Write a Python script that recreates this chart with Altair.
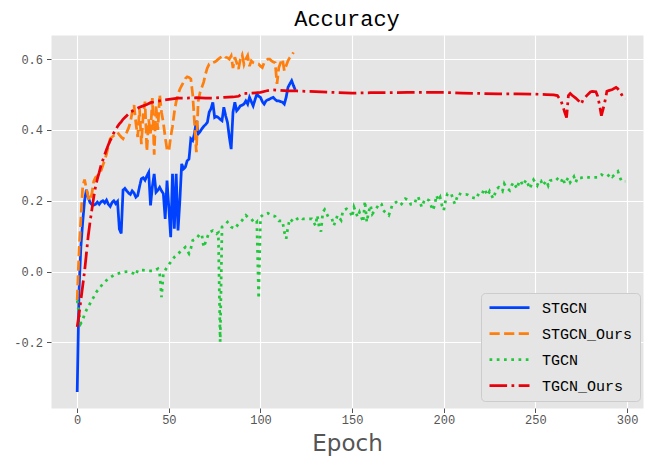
import altair as alt
import pandas as pd

series_names = ["STGCN", "STGCN_Ours", "TGCN", "TGCN_Ours"]
series_colors = ["#0041FF", "#FF7F0E", "#22C83C", "#E8000B"]
series_dashes = [[1, 0], [10.2, 4.4], [2.75, 4.5], [17.6, 4.4, 2.75, 4.4]]

stgcn = [
    -0.34, -0.05, 0.07, 0.14, 0.2, 0.231, 0.21, 0.195, 0.189, 0.188,
    0.19, 0.196, 0.19, 0.197, 0.2, 0.194, 0.202, 0.19, 0.184, 0.195,
    0.2, 0.192, 0.198, 0.12, 0.108, 0.23, 0.235, 0.228, 0.222, 0.218,
    0.228, 0.222, 0.21, 0.215, 0.24, 0.262, 0.265, 0.258, 0.27, 0.28,
    0.187, 0.24, 0.276, 0.224, 0.23, 0.238, 0.228, 0.22, 0.149, 0.257,
    0.18, 0.097, 0.276, 0.121, 0.276, 0.116, 0.2, 0.304, 0.29, 0.295,
    0.313, 0.318, 0.375, 0.37, 0.39, 0.426, 0.389, 0.395, 0.403, 0.41,
    0.415, 0.421, 0.45, 0.46, 0.478, 0.435, 0.438, 0.435, 0.43, 0.426,
    0.464, 0.44, 0.421, 0.38, 0.346, 0.45, 0.478, 0.454, 0.46, 0.468,
    0.47, 0.473, 0.482, 0.473, 0.492, 0.48, 0.468, 0.485, 0.501, 0.495,
    0.492, 0.48, 0.473, 0.482, 0.485, 0.487, 0.49, 0.492, 0.486, 0.482,
    0.482, 0.48, 0.478, 0.473, 0.492, 0.52, 0.53, 0.539, 0.525, 0.513,
]

stgcn_ours = [
    -0.08, 0.06, 0.15, 0.24, 0.26, 0.235, 0.21, 0.2, 0.22, 0.255,
    0.266, 0.27, 0.276, 0.285, 0.3, 0.315, 0.332, 0.355, 0.375, 0.38,
    0.384, 0.39, 0.393, 0.386, 0.38, 0.375, 0.385, 0.393, 0.405, 0.421,
    0.45, 0.47, 0.42, 0.38, 0.46, 0.36, 0.44, 0.48, 0.34, 0.43,
    0.39, 0.49, 0.33, 0.47, 0.4, 0.5, 0.45, 0.42, 0.38, 0.345,
    0.34, 0.38, 0.41, 0.45, 0.48, 0.5, 0.515, 0.525, 0.535, 0.545,
    0.55, 0.548, 0.544, 0.5, 0.42, 0.337, 0.48, 0.505, 0.52, 0.535,
    0.558, 0.575, 0.586, 0.586, 0.59, 0.592, 0.595, 0.6, 0.604, 0.607,
    0.61, 0.605, 0.604, 0.6, 0.609, 0.575, 0.605, 0.59, 0.572, 0.6,
    0.612, 0.585, 0.6, 0.61, 0.58, 0.595, 0.59, 0.588, 0.586, 0.586,
    0.58, 0.576, 0.59, 0.595, 0.6, 0.6, 0.595, 0.592, 0.59, 0.53,
    0.576, 0.59, 0.6, 0.567, 0.581, 0.595, 0.604, 0.61, 0.619,
]

tgcn_epochs = [
    0, 1, 2, 3, 4, 5, 6, 7, 8, 9, 10, 12, 14, 17, 20, 22, 25, 28, 31, 32,
    33, 36, 39, 42, 44, 45, 46, 47, 49, 51, 53, 56, 59, 61, 62, 63, 65, 67, 68, 69,
    70, 72, 74, 76, 77, 78, 79, 81, 82, 84, 86, 88, 90, 92, 93, 95, 97, 98, 99, 100,
    102, 104, 106, 108, 110, 112, 113, 114, 115, 116, 118, 120, 122, 123, 126, 128, 130, 131, 132, 133,
    134, 135, 137, 139, 140, 141, 142, 144, 145, 147, 149, 150, 151, 153, 154, 156, 157, 158, 159, 160,
    161, 163, 165, 166, 167, 168, 170, 171, 172, 174, 176, 177, 179, 181, 182, 184, 185, 186, 187, 188,
    189, 190, 192, 193, 194, 195, 196, 197, 198, 199, 200, 201, 202, 204, 205, 206, 208, 210, 212, 213,
    215, 218, 219, 221, 222, 224, 225, 227, 228, 229, 230, 232, 233, 234, 236, 237, 238, 240, 241, 242,
    243, 245, 247, 248, 249, 251, 252, 253, 254, 256, 257, 258, 260, 261, 262, 264, 265, 266, 268, 269,
    271, 272, 273, 275, 277, 280, 282, 284, 286, 287, 289, 291, 292, 295, 296, 297, 299,
]
tgcn = [
    -0.081, -0.12, -0.146, -0.137, -0.12, -0.109, -0.1, -0.09, -0.08, -0.072, -0.06, -0.048, -0.034, -0.02, -0.01, -0.006, -0.001, 0.0, -0.006, -0.01,
    0.004, 0.004, 0.002, 0.002, 0.008, -0.006, -0.072, -0.006, 0.013, 0.027, 0.041, 0.055, 0.069, 0.051, 0.065, 0.088, 0.093, 0.107, 0.104, 0.069,
    0.083, 0.111, 0.116, 0.107, 0.11, -0.198, 0.126, 0.135, 0.14, 0.126, 0.121, 0.135, 0.145, 0.159, 0.154, 0.149, 0.135, 0.14, -0.076, 0.154,
    0.163, 0.165, 0.159, 0.156, 0.143, 0.143, 0.112, 0.093, 0.126, 0.149, 0.14, 0.149, 0.154, 0.149, 0.149, 0.149, 0.13, 0.159, 0.126, 0.113,
    0.168, 0.175, 0.154, 0.149, 0.13, 0.143, 0.159, 0.145, 0.173, 0.177, 0.168, 0.154, 0.182, 0.154, 0.168, 0.14, 0.199, 0.14, 0.168, 0.187,
    0.163, 0.177, 0.193, 0.191, 0.173, 0.168, 0.159, 0.173, 0.19, 0.196, 0.187, 0.191, 0.206, 0.201, 0.19, 0.191, 0.206, 0.212, 0.196, 0.182,
    0.196, 0.206, 0.201, 0.187, 0.173, 0.187, 0.215, 0.201, 0.21, 0.187, 0.173, 0.201, 0.22, 0.221, 0.206, 0.191, 0.221, 0.217, 0.218, 0.217,
    0.21, 0.206, 0.221, 0.22, 0.234, 0.215, 0.227, 0.206, 0.221, 0.234, 0.238, 0.227, 0.248, 0.238, 0.229, 0.243, 0.252, 0.234, 0.252, 0.257,
    0.243, 0.259, 0.234, 0.248, 0.259, 0.243, 0.257, 0.257, 0.243, 0.257, 0.243, 0.257, 0.259, 0.257, 0.262, 0.252, 0.265, 0.248, 0.266, 0.252,
    0.268, 0.252, 0.265, 0.265, 0.268, 0.265, 0.266, 0.266, 0.274, 0.271, 0.268, 0.276, 0.268, 0.283, 0.268, 0.255, 0.255,
]

tgcn_ours_epochs = [
    0, 1, 2, 3, 4, 5, 6, 7, 8, 9, 10, 11, 12, 13, 14, 15, 16, 17, 18, 19,
    20, 21, 22, 23, 24, 25, 26, 27, 28, 29, 30, 32, 34, 36, 38, 40, 42, 45, 48, 51,
    55, 60, 65, 70, 75, 80, 85, 88, 90, 92, 95, 98, 100, 103, 106, 110, 115, 120, 130, 140,
    150, 160, 170, 180, 190, 200, 210, 220, 230, 240, 250, 256, 260, 262, 264, 266, 267, 268, 269, 270,
    272, 274, 275, 276, 278, 280, 281, 283, 284, 285, 286, 287, 288, 289, 290, 292, 294, 295, 296, 297,
    298, 299,
]
tgcn_ours = [
    -0.156, -0.12, -0.08, -0.04, 0.0, 0.05, 0.1, 0.14, 0.175, 0.21, 0.24, 0.262, 0.28, 0.3, 0.315, 0.33, 0.345, 0.358, 0.37, 0.38,
    0.392, 0.4, 0.41, 0.417, 0.423, 0.43, 0.435, 0.44, 0.445, 0.45, 0.453, 0.459, 0.464, 0.468, 0.472, 0.477, 0.479, 0.482, 0.485, 0.487,
    0.49, 0.49, 0.491, 0.49, 0.49, 0.492, 0.493, 0.495, 0.502, 0.503, 0.504, 0.505, 0.506, 0.51, 0.513, 0.512, 0.51, 0.51, 0.508, 0.506,
    0.504, 0.505, 0.505, 0.506, 0.506, 0.506, 0.504, 0.503, 0.502, 0.502, 0.501, 0.5, 0.499, 0.497, 0.482, 0.45, 0.435, 0.497, 0.503, 0.498,
    0.49, 0.48, 0.473, 0.485, 0.497, 0.507, 0.509, 0.508, 0.495, 0.47, 0.44, 0.46, 0.482, 0.509, 0.511, 0.514, 0.52, 0.516, 0.509, 0.5,
    0.49, 0.487,
]

x_ticks = [0, 50, 100, 150, 200, 250, 300]
y_ticks = [-0.2, 0.0, 0.2, 0.4, 0.6]

rows = []
for e, v in zip(range(len(stgcn)), stgcn):
    rows.append({"Epoch": e, "value": v, "series": series_names[0]})
for e, v in zip(range(len(stgcn_ours)), stgcn_ours):
    rows.append({"Epoch": e, "value": v, "series": series_names[1]})
for e, v in zip(tgcn_epochs, tgcn):
    rows.append({"Epoch": e, "value": v, "series": series_names[2]})
for e, v in zip(tgcn_ours_epochs, tgcn_ours):
    rows.append({"Epoch": e, "value": v, "series": series_names[3]})
df = pd.DataFrame(rows)

legend = alt.Legend(
    title=None, orient="none", legendX=430, legendY=258,
    symbolType="stroke", symbolSize=1600, symbolStrokeWidth=2.75,
    clipHeight=15,
    labelFont="Liberation Mono", labelFontSize=15, labelColor="#000000",
    labelOffset=11, fillColor="#E5E5E5", strokeColor="#CCCCCC",
    cornerRadius=4, padding=7, rowPadding=10,
)

chart = alt.Chart(df).mark_line(strokeWidth=2.75).encode(
    x=alt.X("Epoch:Q", scale=alt.Scale(domain=[-14.3, 308.7], nice=False, zero=False),
            axis=alt.Axis(values=x_ticks, title="Epoch", format="d", labelPadding=2,
                          titlePadding=25, titleBaseline="alphabetic")),
    y=alt.Y("value:Q", scale=alt.Scale(domain=[-0.385, 0.668], nice=False, zero=False),
            axis=alt.Axis(values=y_ticks, title=None, labelPadding=4,
                          labelExpr="replace(format(datum.value, '.1f'), '\u2212', '-')")),
    color=alt.Color("series:N", scale=alt.Scale(domain=series_names, range=series_colors), legend=legend),
    strokeDash=alt.StrokeDash("series:N", scale=alt.Scale(domain=series_names, range=series_dashes), legend=legend),
).properties(
    width=592, height=373,
    title=alt.TitleParams("Accuracy", font="Liberation Mono", fontSize=22, fontWeight="normal",
                          color="#000000", anchor="middle", offset=4),
    autosize=alt.AutoSizeParams(type="none"),
    padding={"left": 43, "top": 27, "right": 1, "bottom": 50},
).configure_view(
    fill="#E5E5E5", strokeOpacity=0,
).configure_axis(
    grid=True, gridColor="#FFFFFF", gridWidth=1.1, domain=False,
    tickColor="#555555", tickSize=4.5, tickWidth=1,
    labelFont="Liberation Mono", labelFontSize=12, labelColor="#555555",
    titleFont="DejaVu Sans", titleFontSize=23, titleFontWeight="normal", titleColor="#555555",
)

chart.save("out.html", embed_options={"renderer": "svg", "actions": False})
